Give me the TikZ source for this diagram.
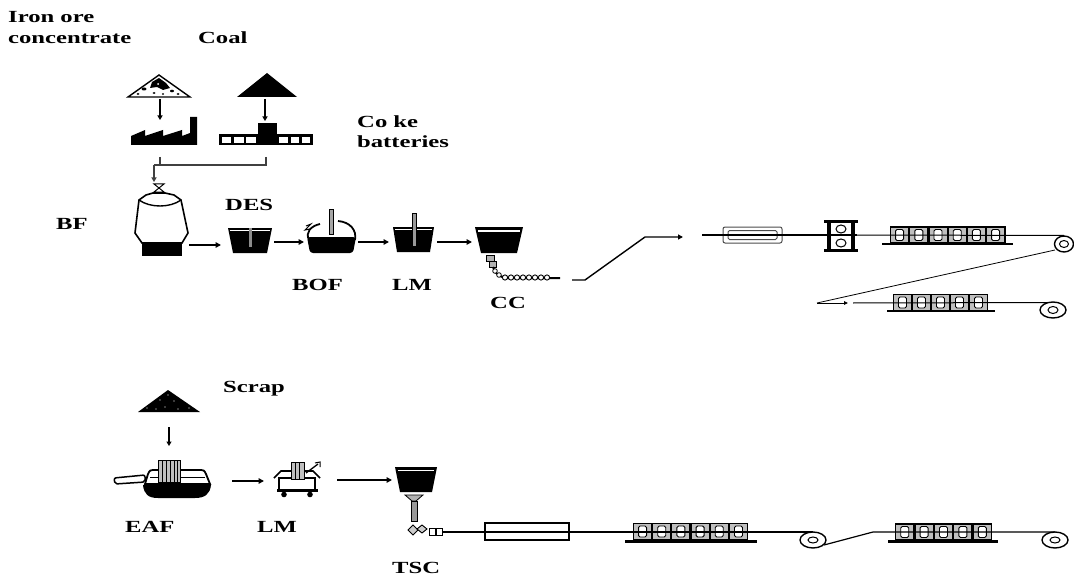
\documentclass[tikz,border=0pt]{standalone}
\usepackage{fontspec}
\setmainfont{Liberation Serif}
\usepackage{graphicx}
\usetikzlibrary{arrows.meta}
\newcommand\stx[1]{\scalebox{1.45}[1]{#1}}
\begin{document}
\begin{tikzpicture}[x=1pt,y=-1pt,
  lbl/.style={font=\fontsize{17}{20}\selectfont\bfseries, inner sep=0pt, anchor=base west},
  arr/.style={line width=1.8pt, -{Triangle[length=5.5pt,width=5.5pt]}},
  darr/.style={line width=1.4pt, -{Triangle[length=4.5pt,width=5pt]}},
  tarr/.style={line width=0.9pt, -{Triangle[length=4pt,width=3.5pt]}},
  strip/.style={line width=1pt},
  roll/.style={line width=1.4pt, fill=white},
  millbox/.pic={
    \draw[line width=1.4pt, fill=black!25] (-9.2,-8) rectangle (9.2,8);
    \draw[line width=0.9pt, fill=white, rounded corners=1.5pt] (-4,-5.5) rectangle (4,5.5);
  }]
\useasboundingbox (0,0) rectangle (1074,575);

% ---------------- labels ----------------
\node[lbl] (t-iron) at (8,23) {\stx{Iron ore}};
\node[lbl] (t-conc) at (8,44) {\stx{concentrate}};
\node[lbl] (t-coal) at (198,44) {\stx{Coal}};
\node[lbl] (t-coke1) at (357,128) {\stx{Co ke}};
\node[lbl] (t-coke2) at (357,148) {\stx{batteries}};
\node[lbl] (t-bf) at (56,229) {\stx{BF}};
\node[lbl] (t-des) at (225,210) {\stx{DES}};
\node[lbl] (t-bof) at (292,290) {\stx{BOF}};
\node[lbl] (t-lm1) at (392,290) {\stx{LM}};
\node[lbl] (t-cc) at (490,308) {\stx{CC}};
\node[lbl] (t-scrap) at (223,392) {\stx{Scrap}};
\node[lbl] (t-eaf) at (125,532) {\stx{EAF}};
\node[lbl] (t-lm2) at (257,532) {\stx{LM}};
\node[lbl] (t-tsc) at (392,573) {\stx{TSC}};

% ---------------- coordinates ----------------
\coordinate (ore-b) at (160,99);   \coordinate (sin-t) at (160,120);
\coordinate (coal-b) at (265,99);  \coordinate (cok-t) at (265,121);
\coordinate (sin-b) at (160,157);  \coordinate (cok-b) at (266,157);
\coordinate (jn-r) at (266,165);   \coordinate (jn-l) at (154,165);
\coordinate (bf-t) at (154,182);
\coordinate (bf-o) at (189,245);   \coordinate (des-i) at (221,245);
\coordinate (des-o) at (274,242);  \coordinate (bof-i) at (304,242);
\coordinate (bof-o) at (358,242);  \coordinate (lm-i) at (389,242);
\coordinate (lm-o) at (437,242);   \coordinate (cc-i) at (472,242);
\coordinate (cc-o) at (572,280);   \coordinate (hsm-i) at (683,237);
\coordinate (scr-b) at (169,427);  \coordinate (eaf-t) at (169,446);
\coordinate (eaf-o) at (232,481);  \coordinate (lm2-i) at (264,481);
\coordinate (lm2-o) at (337,480);  \coordinate (tsc-i) at (392,480);
\coordinate (c1) at (1064,244);
\coordinate (c2) at (1053,310);
\coordinate (c3) at (813,540);
\coordinate (c4) at (1055,540);

% ---------------- upper route: raw materials ----------------
% iron ore pile
\draw[line width=1.4pt, fill=white] (128,97) -- (159,75) -- (190,97) -- cycle;
\fill (152,82) -- (159,78) -- (166,83) -- (170,88) -- (163,90) -- (157,87) -- (150,88) -- cycle;
\fill (144,89) ellipse[x radius=2.5pt, y radius=1.5pt];
\fill (172,91) ellipse[x radius=2pt, y radius=1.3pt];
\fill (154,93) ellipse[x radius=1.5pt, y radius=1pt];
\fill (178,94) ellipse[x radius=1.5pt, y radius=1pt];
\fill (138,94) ellipse[x radius=1.5pt, y radius=1pt];
\fill (163,94) ellipse[x radius=1.2pt, y radius=0.9pt];
\fill[white] (158,84) circle[radius=1pt];
% coal pile
\fill (237,97) -- (267,73) -- (297,97) -- cycle;
\draw[darr] (ore-b) -- (sin-t);
\draw[darr] (coal-b) -- (cok-t);
% sinter plant
\fill (131,145) -- (131,136) -- (145,130) -- (145,136) -- (163,130) -- (163,136)
  -- (182,130) -- (182,136) -- (190,133) -- (190,117) -- (197,117) -- (197,145) -- cycle;
% coke batteries
\fill (258,123) rectangle (277,145.5);
\draw[line width=2.6pt] (220.3,135.3) rectangle (257,144.2);
\draw[line width=2.2pt] (232.5,135) -- (232.5,144.5) (245,135) -- (245,144.5);
\draw[line width=2.6pt] (278,135.3) rectangle (311.7,144.2);
\draw[line width=2.2pt] (289.5,135) -- (289.5,144.5) (300.5,135) -- (300.5,144.5);
% junction
\draw[line width=1.1pt, black!75] (sin-b) -- (160,165);
\draw[line width=1.1pt, black!75] (cok-b) -- (jn-r) -- (jn-l);
\draw[darr, black!75] (jn-l) -- (bf-t);

% ---------------- blast furnace ----------------
\draw[line width=1pt] (154,184) -- (164,184) -- (154,192) -- (164,192) -- cycle;
\draw[line width=1.6pt, fill=white] (142,243) -- (135,233) -- (139,200) -- (146,195) -- (153,193)
  -- (165,193) -- (174,195) -- (181,200) -- (188,233) -- (182,243) -- cycle;
\draw[line width=1.4pt] (139,200) .. controls (150,208) and (170,208) .. (181,200);
\fill (142,243) rectangle (182,256);
\draw[arr] (bf-o) -- (des-i);

% DES ladle
\fill (228,228) -- (272,228) -- (267,253) -- (233,253) -- cycle;
\draw[white, line width=0.6pt] (230,230.5) -- (270,230.5);
\fill[black!45] (249,228) rectangle (252,247);
\draw[arr] (des-o) -- (bof-i);

% BOF
\fill[rounded corners=3pt] (307,237) -- (356,237) -- (353,253) -- (310,253) -- cycle;
\draw[line width=1.8pt] (309,240) .. controls (305,232) and (311,226) .. (320,224);
\draw[line width=1.8pt] (338,221) .. controls (350,222) and (357,230) .. (355,240);
\draw[line width=1pt] (306,226) -- (311,224) -- (305,230) -- (310,229);
\draw[line width=0.8pt, fill=black!35] (329,209) rectangle (333,234);
\draw[arr] (bof-o) -- (lm-i);

% LM ladle
\fill (393,227) -- (434,227) -- (430,252) -- (397,252) -- cycle;
\draw[white, line width=0.6pt] (395,229.5) -- (432,229.5);
\draw[line width=0.8pt, fill=black!40] (412,213) rectangle (416,246);
\draw[arr] (lm-o) -- (cc-i);

% CC tundish + strand
\fill (475,227) -- (523,227) -- (517,253) -- (481,253) -- cycle;
\draw[white, line width=1.2pt] (478,231) -- (520,231);
\draw[line width=1pt, fill=black!30] (486,255) rectangle (494,261);
\draw[line width=1pt, fill=black!30] (489,261) rectangle (496,267);
\draw[line width=2pt] (493,267) .. controls (495,274) and (499,277) .. (508,278) -- (560,278);
\foreach \p in {(495,271),(499,275)} \draw[line width=0.8pt, fill=white] \p circle[radius=2.3pt];
\foreach \x in {505,511,...,547} \draw[line width=0.9pt, fill=white] (\x,277.5) circle[radius=2.6pt];
\draw[line width=1.4pt, -{Triangle[length=5pt,width=5pt]}] (cc-o) -- (585,280) -- (645,237) -- (hsm-i);

% ---------------- hot strip mill (upper) ----------------
\draw[line width=1pt, black!70, rounded corners=2pt] (723,227) rectangle (782,243);
\draw[line width=1pt, black!70, rounded corners=1.5pt] (728,230.5) rectangle (777,239.5);
\draw[line width=2.5pt] (702,235) -- (857,235);
\fill (824,220) rectangle (858,223);
\fill (824,249) rectangle (858,252);
\fill (827,220) rectangle (831,252);
\fill (851,220) rectangle (855,252);
\draw[line width=1pt] (841,229) ellipse[x radius=5pt, y radius=4pt];
\draw[line width=1pt] (841,243) ellipse[x radius=5pt, y radius=4pt];
\foreach \i in {0,...,5} \pic at ({899.6+19.2*\i},235) {millbox};
\draw[line width=2.5pt] (882,244) -- (1013,244);
\draw[strip] (857,235) -- (1064,235.5);
\draw[roll] (c1) ellipse[x radius=9.5pt, y radius=8pt];
\draw[line width=1pt] (c1) ellipse[x radius=4.5pt, y radius=3.5pt];
% second line
\draw[line width=0.8pt] (1055,250) -- (817,303);
\draw[tarr] (817,303) -- (848,303);
\foreach \i in {0,...,4} \pic at ({902.5+19*\i},302.5) {millbox};
\draw[line width=2.5pt] (887,311) -- (995,311);
\draw[strip] (853,303) -- (1053,302.5);
\draw[roll] (c2) ellipse[x radius=13pt, y radius=8pt];
\draw[line width=1pt] (c2) ellipse[x radius=5pt, y radius=3.5pt];

% ---------------- lower route ----------------
% scrap pile
\fill (138,412) -- (168,390) -- (200,412) -- cycle;
\foreach \p in {(147,408),(156,409),(165,407),(178,409),(189,408),(160,400),(174,401),(168,395)}
  \fill[white] \p circle[radius=0.7pt];
\draw[darr] (scr-b) -- (eaf-t);

% EAF
\draw[line width=1.5pt, fill=white, rounded corners=2pt] (114,478) -- (145,475) -- (145,482) -- (115,484) -- cycle;
\draw[line width=1.8pt, fill=white] (145,484) -- (148,474) .. controls (150,470) .. (156,470) -- (198,470)
  .. controls (204,470) .. (206,474) -- (210,484) -- cycle;
\draw[line width=1pt] (150,477) -- (205,477);
\fill (143,485) -- (211,485) .. controls (210,494) and (205,498) .. (195,498) -- (158,498)
  .. controls (148,498) and (144,494) .. (143,485) -- cycle;
\draw[line width=0.8pt, fill=black!25] (158,460) rectangle (180,482);
\draw[line width=0.7pt] (162,460) -- (162,482) (166,460) -- (166,482) (170,460) -- (170,482)
  (174,460) -- (174,482) (177,460) -- (177,482);
\draw[arr] (eaf-o) -- (lm2-i);

% LM car
\draw[line width=1.6pt] (274,478) -- (281,471) -- (313,471) -- (320,478);
\draw[line width=1.6pt, fill=white] (279,478) rectangle (315,490);
\fill (277,489) rectangle (318,492);
\fill (284,494.5) circle[radius=2.8pt];
\fill (310,494.5) circle[radius=2.8pt];
\draw[line width=0.7pt, fill=black!25] (291,462) rectangle (304,479);
\draw[line width=0.6pt] (295,462) -- (295,479) (299,462) -- (299,479);
\draw[line width=1.3pt] (306,473) -- (318,464);
\draw[line width=1pt] (315,463) -- (320,462) -- (320,467);
\draw[arr] (lm2-o) -- (tsc-i);

% TSC
\fill (395,467) -- (437,467) -- (432,492) -- (400,492) -- cycle;
\draw[white, line width=1pt] (398,470.5) -- (434,470.5);
\draw[line width=0.8pt, fill=black!30] (405,495) -- (423,495) -- (416,501) -- (412,501) -- cycle;
\draw[line width=0.8pt, fill=black!40] (411,501) rectangle (417,521);
\draw[line width=0.9pt, fill=black!20] (413,525) -- (418,530) -- (413,535) -- (408,530) -- cycle;
\draw[line width=0.9pt, fill=black!20] (422,525) -- (427,529) -- (422,533) -- (417,529) -- cycle;
\draw[line width=0.9pt, fill=white] (429,528) rectangle (435,535);
\draw[line width=0.9pt, fill=white] (436,528) rectangle (442,535);

% thin slab line
\draw[line width=1.6pt, fill=white] (485,523) rectangle (569,540);
\foreach \i in {0,...,5} \pic at ({642.6+19.17*\i},531.5) {millbox};
\draw[line width=2.5pt] (625,541.5) -- (757,541.5);
\draw[line width=1.2pt] (442,532) -- (813,532);
\draw[roll] (c3) ellipse[x radius=13pt, y radius=8pt];
\draw[line width=1pt] (c3) ellipse[x radius=5pt, y radius=3pt];
\foreach \i in {0,...,4} \pic at ({904.7+19.4*\i},532) {millbox};
\draw[line width=2.5pt] (888,541.5) -- (998,541.5);
\draw[line width=1.2pt] (824,545) -- (873,532) -- (1055,532);
\draw[roll] (c4) ellipse[x radius=13pt, y radius=8pt];
\draw[line width=1pt] (c4) ellipse[x radius=5pt, y radius=3pt];
\end{tikzpicture}
\end{document}
